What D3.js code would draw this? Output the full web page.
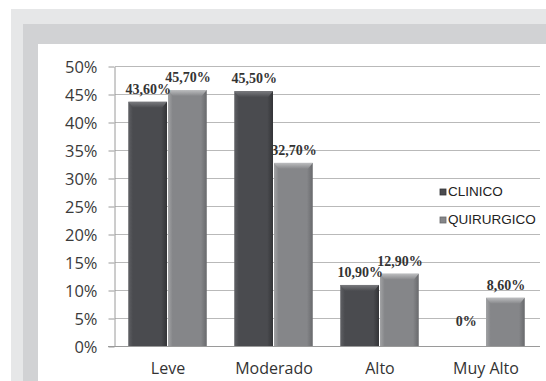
<!DOCTYPE html>
<html>
<head>
<meta charset="utf-8">
<script src="https://cdn.jsdelivr.net/npm/d3@7"></script>
<style>
  body { margin: 0; background: #fff; }
  svg { display: block; }
</style>
</head>
<body>
<script>
// data
var categories = ["Leve", "Moderado", "Alto", "Muy Alto"];
var seriesNames = ["CLINICO", "QUIRURGICO"];
var clinico = [43.6, 45.5, 10.9, 0];
var quirurgico = [45.7, 32.7, 12.9, 8.6];
var clinicoLabels = ["43,60%", "45,50%", "10,90%", "0%"];
var quirurgicoLabels = ["45,70%", "32,70%", "12,90%", "8,60%"];
var yTicks = [0, 5, 10, 15, 20, 25, 30, 35, 40, 45, 50];

var width = 546, height = 381;

var svg = d3.select("body").append("svg")
    .attr("width", width)
    .attr("height", height);

// framed background bands
svg.append("rect").attr("x", 11).attr("y", 9).attr("width", width).attr("height", height).attr("fill", "#e6e7e8");
svg.append("rect").attr("x", 23).attr("y", 24).attr("width", width).attr("height", height).attr("fill", "#d1d2d4");
svg.append("rect").attr("x", 38).attr("y", 44).attr("width", width).attr("height", height).attr("fill", "#ffffff");

var x = d3.scaleBand()
    .domain(categories)
    .range([115, 539])
    .paddingInner(0.25)
    .paddingOuter(0.125);

var xs = d3.scaleBand()
    .domain(seriesNames)
    .range([0, x.bandwidth()]);

var y = d3.scaleLinear()
    .domain([0, 50])
    .range([346, 66]);

// gridlines
svg.append("g")
    .selectAll("line")
    .data(yTicks.slice(1))
    .enter().append("line")
    .attr("x1", 115).attr("x2", 540)
    .attr("y1", function(d) { return Math.round(y(d)) + 0.5; })
    .attr("y2", function(d) { return Math.round(y(d)) + 0.5; })
    .attr("stroke", "#b9b9b9")
    .attr("stroke-width", 1.2);

// y axis
var yAxis = svg.append("g")
    .attr("transform", "translate(114.5,0.5)")
    .call(d3.axisLeft(y).tickValues(yTicks).tickSize(6).tickSizeOuter(0)
        .tickFormat(function(d) { return d + "%"; }));
yAxis.select(".domain").attr("stroke", "#9a9a9a");
yAxis.selectAll(".tick line").attr("stroke", "#9a9a9a");
yAxis.selectAll("text")
    .attr("x", -17)
    .attr("dy", "0.36em")
    .style("font-family", "'Open Sans', sans-serif")
    .style("font-size", "16.5px")
    .attr("fill", "#3a3a3a");

// baseline
svg.append("line")
    .attr("x1", 108).attr("x2", 540)
    .attr("y1", y(0) + 0.5).attr("y2", y(0) + 0.5)
    .attr("stroke", "#9a9a9a");

// gradients for bevelled bars
var defs = svg.append("defs");
var palette = {
    CLINICO: { left: "#606165", mid: "#4a4b4f", right: "#333437", top: "#797a7e" },
    QUIRURGICO: { left: "#a2a3a5", mid: "#858689", right: "#68696c", top: "#bcbdbf" }
};
seriesNames.forEach(function(s) {
    var g = defs.append("linearGradient").attr("id", "g-" + s)
        .attr("x1", 0).attr("x2", 1).attr("y1", 0).attr("y2", 0);
    g.append("stop").attr("offset", "0").attr("stop-color", palette[s].left);
    g.append("stop").attr("offset", "0.12").attr("stop-color", palette[s].mid);
    g.append("stop").attr("offset", "0.85").attr("stop-color", palette[s].mid);
    g.append("stop").attr("offset", "1").attr("stop-color", palette[s].right);
    var t = defs.append("linearGradient").attr("id", "t-" + s)
        .attr("x1", 0).attr("x2", 0).attr("y1", 0).attr("y2", 1);
    t.append("stop").attr("offset", "0").attr("stop-color", palette[s].top);
    t.append("stop").attr("offset", "1").attr("stop-color", palette[s].mid);
});

var rows = [];
categories.forEach(function(c, i) {
    rows.push({ cat: c, s: "CLINICO", v: clinico[i], label: clinicoLabels[i] });
    rows.push({ cat: c, s: "QUIRURGICO", v: quirurgico[i], label: quirurgicoLabels[i] });
});

var bars = svg.append("g").selectAll("g")
    .data(rows.filter(function(d) { return d.v > 0; }))
    .enter().append("g");

bars.append("rect")
    .attr("x", function(d) { return x(d.cat) + xs(d.s); })
    .attr("y", function(d) { return y(d.v); })
    .attr("width", xs.bandwidth() - 1)
    .attr("height", function(d) { return y(0) - y(d.v); })
    .attr("fill", function(d) { return "url(#g-" + d.s + ")"; });

// top bevel
bars.append("path")
    .attr("d", function(d) {
        var x0 = x(d.cat) + xs(d.s), x1 = x0 + xs.bandwidth() - 1, y0 = y(d.v);
        return "M" + x0 + "," + y0 + "L" + x1 + "," + y0 + "L" + (x1 - 5) + "," + (y0 + 6) +
            "L" + (x0 + 5) + "," + (y0 + 6) + "Z";
    })
    .attr("fill", function(d) { return "url(#t-" + d.s + ")"; });

// value labels
svg.append("g").selectAll("text")
    .data(rows)
    .enter().append("text")
    .attr("x", function(d) { return x(d.cat) + xs(d.s) + xs.bandwidth() / 2; })
    .attr("y", function(d) { return d.v > 0 ? y(d.v) - 8 : y(0) - 20; })
    .attr("text-anchor", "middle")
    .style("font-family", "'Liberation Serif', serif")
    .style("font-weight", "bold")
    .style("font-size", "14px")
    .attr("fill", "#333")
    .text(function(d) { return d.label; });

// category labels
svg.append("g").selectAll("text")
    .data(categories)
    .enter().append("text")
    .attr("x", function(d) { return x(d) + x.bandwidth() / 2; })
    .attr("y", 374)
    .attr("text-anchor", "middle")
    .style("font-family", "'Open Sans', sans-serif")
    .style("font-size", "16px")
    .attr("fill", "#333")
    .text(function(d) { return d; });

// legend
var legend = svg.append("g").selectAll("g")
    .data(seriesNames)
    .enter().append("g")
    .attr("transform", function(d, i) { return "translate(440," + (196 + i * 28) + ")"; });

legend.append("rect")
    .attr("x", 0).attr("y", -7)
    .attr("width", 6).attr("height", 6)
    .attr("fill", function(d) { return palette[d].mid; })
    .attr("stroke", function(d) { return palette[d].right; })
    .attr("stroke-width", 0.8);

legend.append("text")
    .attr("x", 8)
    .attr("y", 0)
    .style("font-family", "'Liberation Sans', sans-serif")
    .style("font-size", "13.5px")
    .attr("fill", "#222")
    .text(function(d) { return d; });
</script>
</body>
</html>
